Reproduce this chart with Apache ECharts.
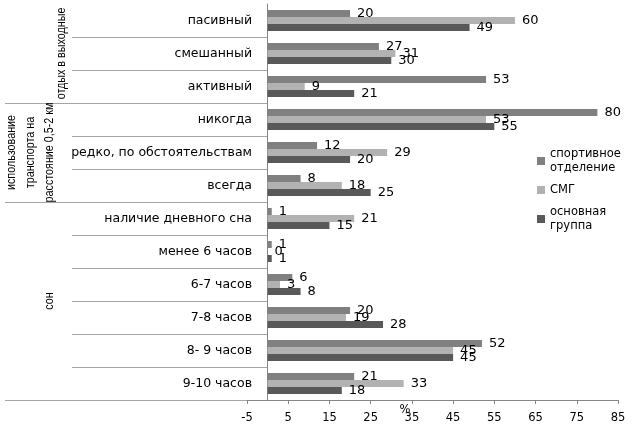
<!DOCTYPE html>
<html>
<head>
<meta charset="utf-8">
<script src="https://cdn.jsdelivr.net/npm/echarts@6/dist/echarts.min.js"></script>
<style>
  html, body { margin: 0; padding: 0; background: #fff; }
  #bar { width: 636px; height: 425px; }
</style>
</head>
<body>
<div id="bar"></div>
<script>
 // категории сверху вниз
 var categories = ['пасивный', 'смешанный', 'активный', 'никогда', 'редко, по обстоятельствам', 'всегда',
                   'наличие дневного сна', 'менее 6 часов', '6-7 часов', '7-8 часов', '8- 9 часов', '9-10 часов'];
 var seriesNames = ['спортивное\nотделение', 'СМГ', 'основная\nгруппа'];
 var sport = [20, 27, 53, 80, 12, 8, 1, 1, 6, 20, 52, 21];
 var smg = [60, 31, 9, 53, 29, 18, 21, 0, 3, 19, 45, 33];
 var basic = [49, 30, 21, 55, 20, 25, 15, 1, 8, 28, 45, 18];
 var groupNames = ['отдых в выходные', 'использование\nтранспорта на\nрасстояние 0,5-2 км', 'сон'];
 var groupFirst = [0, 3, 6];
 var groupLast = [2, 5, 11];
 var groupX = [62, 31, 50];
 var colors = ['#808080', '#b2b2b2', '#595959'];

 function makeSeries(name, data, color) {
   return {
     name: name,
     type: 'bar',
     data: data,
     barWidth: 7,
     barGap: '0%',
     itemStyle: { color: color },
     label: {
       show: true,
       position: 'right',
       distance: 7,
       color: '#000',
       fontFamily: 'DejaVu Sans',
       fontSize: 13
     }
   };
 }

 function makeOption() {
   var option = {
     animation: false,
     color: colors,
     grid: { left: 247, right: 18, top: 4, bottom: 25, outerBoundsMode: 'none', containLabel: false },
     legend: {
       orient: 'vertical',
       left: 537,
       top: 140,
       padding: 0,
       itemWidth: 8,
       itemHeight: 8,
       itemGap: 1,
       icon: 'rect',
       textStyle: { fontFamily: 'DejaVu Sans', fontSize: 11.5, color: '#000', lineHeight: 14 },
       data: [
         { name: seriesNames[0], textStyle: { padding: [14, 0, 0, 0] } },
         { name: seriesNames[1] },
         { name: seriesNames[2], textStyle: { padding: [14, 0, 0, 0] } }
       ]
     },
     xAxis: {
       type: 'value',
       min: -5,
       max: 85,
       interval: 10,
       name: '%',
       nameLocation: 'middle',
       nameGap: 4,
       nameMoveOverlap: false,
       nameTextStyle: { fontFamily: 'DejaVu Sans', fontSize: 11.5, color: '#000', padding: [0, 55, 0, 0] },
       splitLine: { show: false },
       axisLine: { show: true, lineStyle: { color: '#868686' } },
       axisTick: { show: true, length: 4, lineStyle: { color: '#868686' } },
       axisLabel: { margin: 12, fontFamily: 'DejaVu Sans', fontSize: 11.5, color: '#000' }
     },
     yAxis: {
       type: 'category',
       inverse: true,
       data: categories,
       axisLine: { show: true, onZero: true, lineStyle: { color: '#868686' } },
       axisTick: { show: false },
       axisLabel: { margin: -5, fontFamily: 'DejaVu Sans', fontSize: 12.5, color: '#000' }
     },
     series: [
       makeSeries(seriesNames[0], sport, colors[0]),
       makeSeries(seriesNames[1], smg, colors[1]),
       makeSeries(seriesNames[2], basic, colors[2])
     ]
   };
   return option;
 }

 // разделители категорий и подписи групп (как в Excel)
 function makeGraphic(chart) {
   var x0 = chart.convertToPixel({ xAxisIndex: 0 }, 0);
   var y0 = chart.convertToPixel({ yAxisIndex: 0 }, categories[0]);
   var y1 = chart.convertToPixel({ yAxisIndex: 0 }, categories[1]);
   var band = y1 - y0;
   var elements = [];
   for (var i = 1; i <= categories.length; i++) {
     var y = Math.round(y0 + band * (i - 0.5)) + 0.5;
     var isGroup = groupFirst.indexOf(i) > 0 || i === categories.length;
     elements.push({
       type: 'line',
       shape: { x1: isGroup ? 5 : 72, y1: y, x2: x0, y2: y },
       style: { stroke: '#a6a6a6', lineWidth: 1 },
       silent: true
     });
   }
   for (var g = 0; g < groupNames.length; g++) {
     var cy = (chart.convertToPixel({ yAxisIndex: 0 }, categories[groupFirst[g]]) +
               chart.convertToPixel({ yAxisIndex: 0 }, categories[groupLast[g]])) / 2;
     elements.push({
       type: 'text',
       x: groupX[g],
       y: cy,
       rotation: Math.PI / 2,
       scaleX: 0.86,
       silent: true,
       style: {
         text: groupNames[g],
         align: 'center',
         verticalAlign: 'middle',
         lineHeight: 19,
         fill: '#000',
         font: '12.5px "Liberation Sans"'
       }
     });
   }
   return elements;
 }

 function setChart(id) {
   var myChart = echarts.init(document.getElementById(id));
   myChart.setOption(makeOption());
   myChart.setOption({ graphic: makeGraphic(myChart) });
 }

 setChart('bar');
</script>
</body>
</html>
